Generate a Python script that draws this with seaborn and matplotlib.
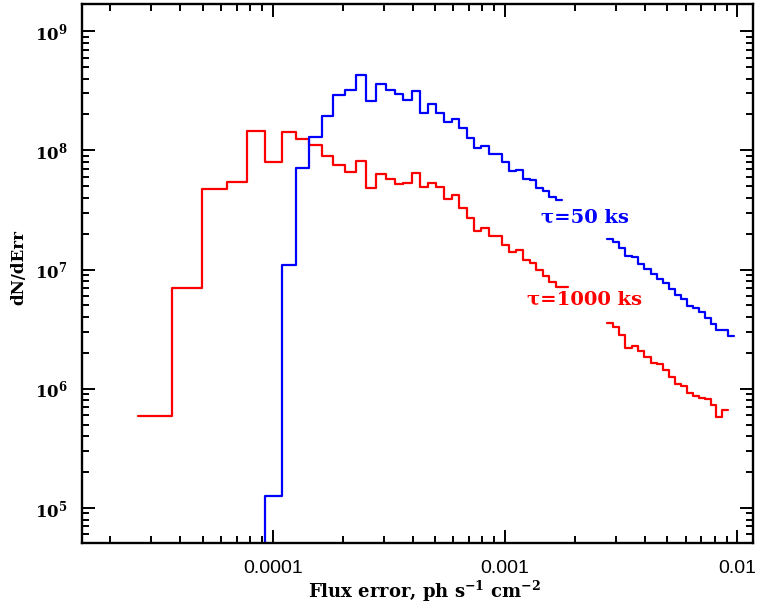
import numpy as np
import pandas as pd
import matplotlib
matplotlib.use("Agg")
import matplotlib.pyplot as plt
import seaborn as sns
from matplotlib.ticker import FixedLocator, LogLocator, FuncFormatter, NullFormatter

# ---- data ----
edges = [2.63e-5, 3.68e-5, 4.96e-5, 6.35e-5, 7.74e-5, 9.26e-5, 1.092e-4, 1.259e-4,
         1.436e-4, 1.624e-4, 1.822e-4, 2.047e-4, 2.275e-4, 2.520e-4, 2.782e-4,
         3.064e-4, 3.360e-4, 3.648e-4, 3.965e-4, 4.305e-4, 4.673e-4, 5.059e-4,
         5.460e-4, 5.894e-4, 6.356e-4, 6.842e-4, 7.369e-4, 7.920e-4, 8.508e-4,
         9.101e-4, 9.755e-4, 1.0435e-3, 1.115e-3, 1.195e-3, 1.278e-3, 1.360e-3,
         1.455e-3, 1.555e-3, 1.659e-3, 1.769e-3, 1.874e-3, 2.763e-3, 2.927e-3,
         3.097e-3, 3.287e-3, 3.513e-3, 3.728e-3, 3.981e-3, 4.242e-3, 4.501e-3,
         4.790e-3, 5.085e-3, 5.396e-3, 5.728e-3, 6.078e-3, 6.471e-3, 6.860e-3,
         7.266e-3, 7.714e-3, 8.128e-3, 8.626e-3, 9.155e-3, 9.707e-3]

nan = np.nan
red_1000ks = [5.93e5, 6.95e6, 4.71e7, 5.46e7, 1.45e8, 7.93e7, 1.43e8, 1.24e8,
              1.11e8, 9.04e7, 7.57e7, 6.53e7, 8.13e7, 4.80e7, 6.27e7, 5.74e7,
              5.26e7, 5.32e7, 6.51e7, 4.88e7, 5.32e7, 4.88e7, 3.93e7, 4.22e7,
              3.31e7, 2.70e7, 2.10e7, 2.25e7, 1.92e7, 1.92e7, 1.61e7, 1.40e7,
              1.46e7, 1.20e7, 1.14e7, 9.90e6, 8.82e6, 7.90e6, 7.18e6, 7.10e6,
              nan,
              3.59e6, 3.31e6, 2.82e6, 2.21e6, 2.28e6, 2.07e6, 1.85e6, 1.63e6,
              1.61e6, 1.44e6, 1.26e6, 1.09e6, 1.06e6, 9.29e5, 8.77e5, 8.30e5,
              8.20e5, 7.30e5, 5.82e5, 6.62e5, nan]

blue_50ks = [nan, nan, nan, nan, 0.0, 1.26e5, 1.09e7, 7.11e7,
             1.29e8, 1.95e8, 2.89e8, 3.21e8, 4.28e8, 2.61e8, 3.60e8, 3.21e8,
             2.98e8, 2.66e8, 3.14e8, 2.07e8, 2.43e8, 2.04e8, 1.73e8, 1.84e8,
             1.53e8, 1.28e8, 1.05e8, 1.09e8, 9.36e7, 9.36e7, 7.98e7, 6.75e7,
             6.84e7, 5.72e7, 5.64e7, 4.83e7, 4.57e7, 4.06e7, 3.81e7, nan,
             nan,
             1.79e7, 1.71e7, 1.51e7, 1.30e7, 1.27e7, 1.11e7, 1.01e7, 9.16e6,
             8.32e6, 7.66e6, 6.80e6, 6.17e6, 5.66e6, 4.94e6, 4.73e6, 4.36e6,
             3.92e6, 3.49e6, 3.11e6, 3.11e6, 2.75e6]

series_labels = ["\u03c4=1000 ks", "\u03c4=50 ks"]
series_colors = ["#ff0000", "#0000ff"]
x_tick_values = [1e-4, 1e-3, 1e-2]
x_tick_labels = ["0.0001", "0.001", "0.01"]


def step_rows(vals, name):
    rows = []
    seg = 0
    inseg = False
    last = None
    for k, v in enumerate(vals):
        if np.isnan(v):
            if inseg:
                rows.append((edges[k], last, name, f"{name}-{seg}"))
                seg += 1
                inseg = False
            continue
        rows.append((edges[k], v, name, f"{name}-{seg}"))
        last = v
        inseg = True
    if inseg:
        rows.append((edges[len(vals)], last, name, f"{name}-{seg}"))
    return rows


rows = step_rows(red_1000ks, series_labels[0]) + step_rows(blue_50ks, series_labels[1])
df = pd.DataFrame(rows, columns=["flux_err", "dnderr", "series", "segment"])

sns.set_style("ticks")
plt.rcParams["font.family"] = ["DejaVu Serif", "DejaVu Sans"]
plt.rcParams["mathtext.fontset"] = "dejavuserif"
plt.rcParams["text.color"] = "black"
plt.rcParams["axes.labelcolor"] = "black"
plt.rcParams["xtick.color"] = "black"
plt.rcParams["ytick.color"] = "black"
plt.rcParams["xtick.labelcolor"] = "black"
plt.rcParams["ytick.labelcolor"] = "black"

fig = plt.figure(figsize=(7.57, 6.07), dpi=100)
ax = fig.add_axes([0.1079, 0.1049, 0.8868, 0.8885])

sns.lineplot(data=df, x="flux_err", y="dnderr", hue="series", units="segment",
             estimator=None, sort=False, drawstyle="steps-post",
             palette=dict(zip(series_labels, series_colors)),
             legend=False, linewidth=1.6, ax=ax)

ax.set_xscale("log")
ax.set_yscale("log")
ax.set_xlim(1.503e-5, 1.17e-2)
ax.set_ylim(5.05e4, 1.687e9)

ax.xaxis.set_major_locator(FixedLocator(x_tick_values))
ax.xaxis.set_major_formatter(FuncFormatter(
    lambda v, p: x_tick_labels[x_tick_values.index(v)] if v in x_tick_values else ""))
ax.xaxis.set_minor_locator(LogLocator(base=10, subs=np.arange(2, 10), numticks=20))
ax.xaxis.set_minor_formatter(NullFormatter())

ax.yaxis.set_major_locator(LogLocator(base=10, numticks=20))
ax.yaxis.set_major_formatter(FuncFormatter(
    lambda v, p: r"$\mathbf{10^{%d}}$" % int(round(np.log10(v)))))
ax.yaxis.set_minor_locator(LogLocator(base=10, subs=np.arange(2, 10), numticks=20))
ax.yaxis.set_minor_formatter(NullFormatter())

for side in ["left", "right", "top", "bottom"]:
    ax.spines[side].set_visible(True)
    ax.spines[side].set_linewidth(1.7)
    ax.spines[side].set_color("black")

ax.tick_params(which="both", direction="in", top=True, right=True,
               color="black", labelcolor="black")
ax.tick_params(which="major", length=9.5, width=1.4)
ax.tick_params(which="minor", length=5, width=1.4)
ax.tick_params(axis="x", which="major", pad=12, labelsize=14)
ax.tick_params(axis="y", which="major", pad=10, labelsize=12)
for lab in ax.get_xticklabels():
    lab.set_fontfamily("Liberation Sans")

ax.set_xlabel(r"Flux error, ph s$^{\mathbf{-1}}$ cm$^{\mathbf{-2}}$",
              fontsize=13, fontweight="bold", color="black")
ax.set_ylabel("dN/dErr", fontsize=12, fontweight="bold", color="black")
ax.xaxis.set_label_coords(0.51, -0.066)
ax.yaxis.set_label_coords(-0.0815, 0.512)

ax.text(2.21e-3, 2.70e7, series_labels[1], color=series_colors[1], fontsize=14,
        fontweight="bold", ha="center", va="center")
ax.text(2.21e-3, 5.55e6, series_labels[0], color=series_colors[0], fontsize=14,
        fontweight="bold", ha="center", va="center")

fig.savefig("out.png", dpi=100)
